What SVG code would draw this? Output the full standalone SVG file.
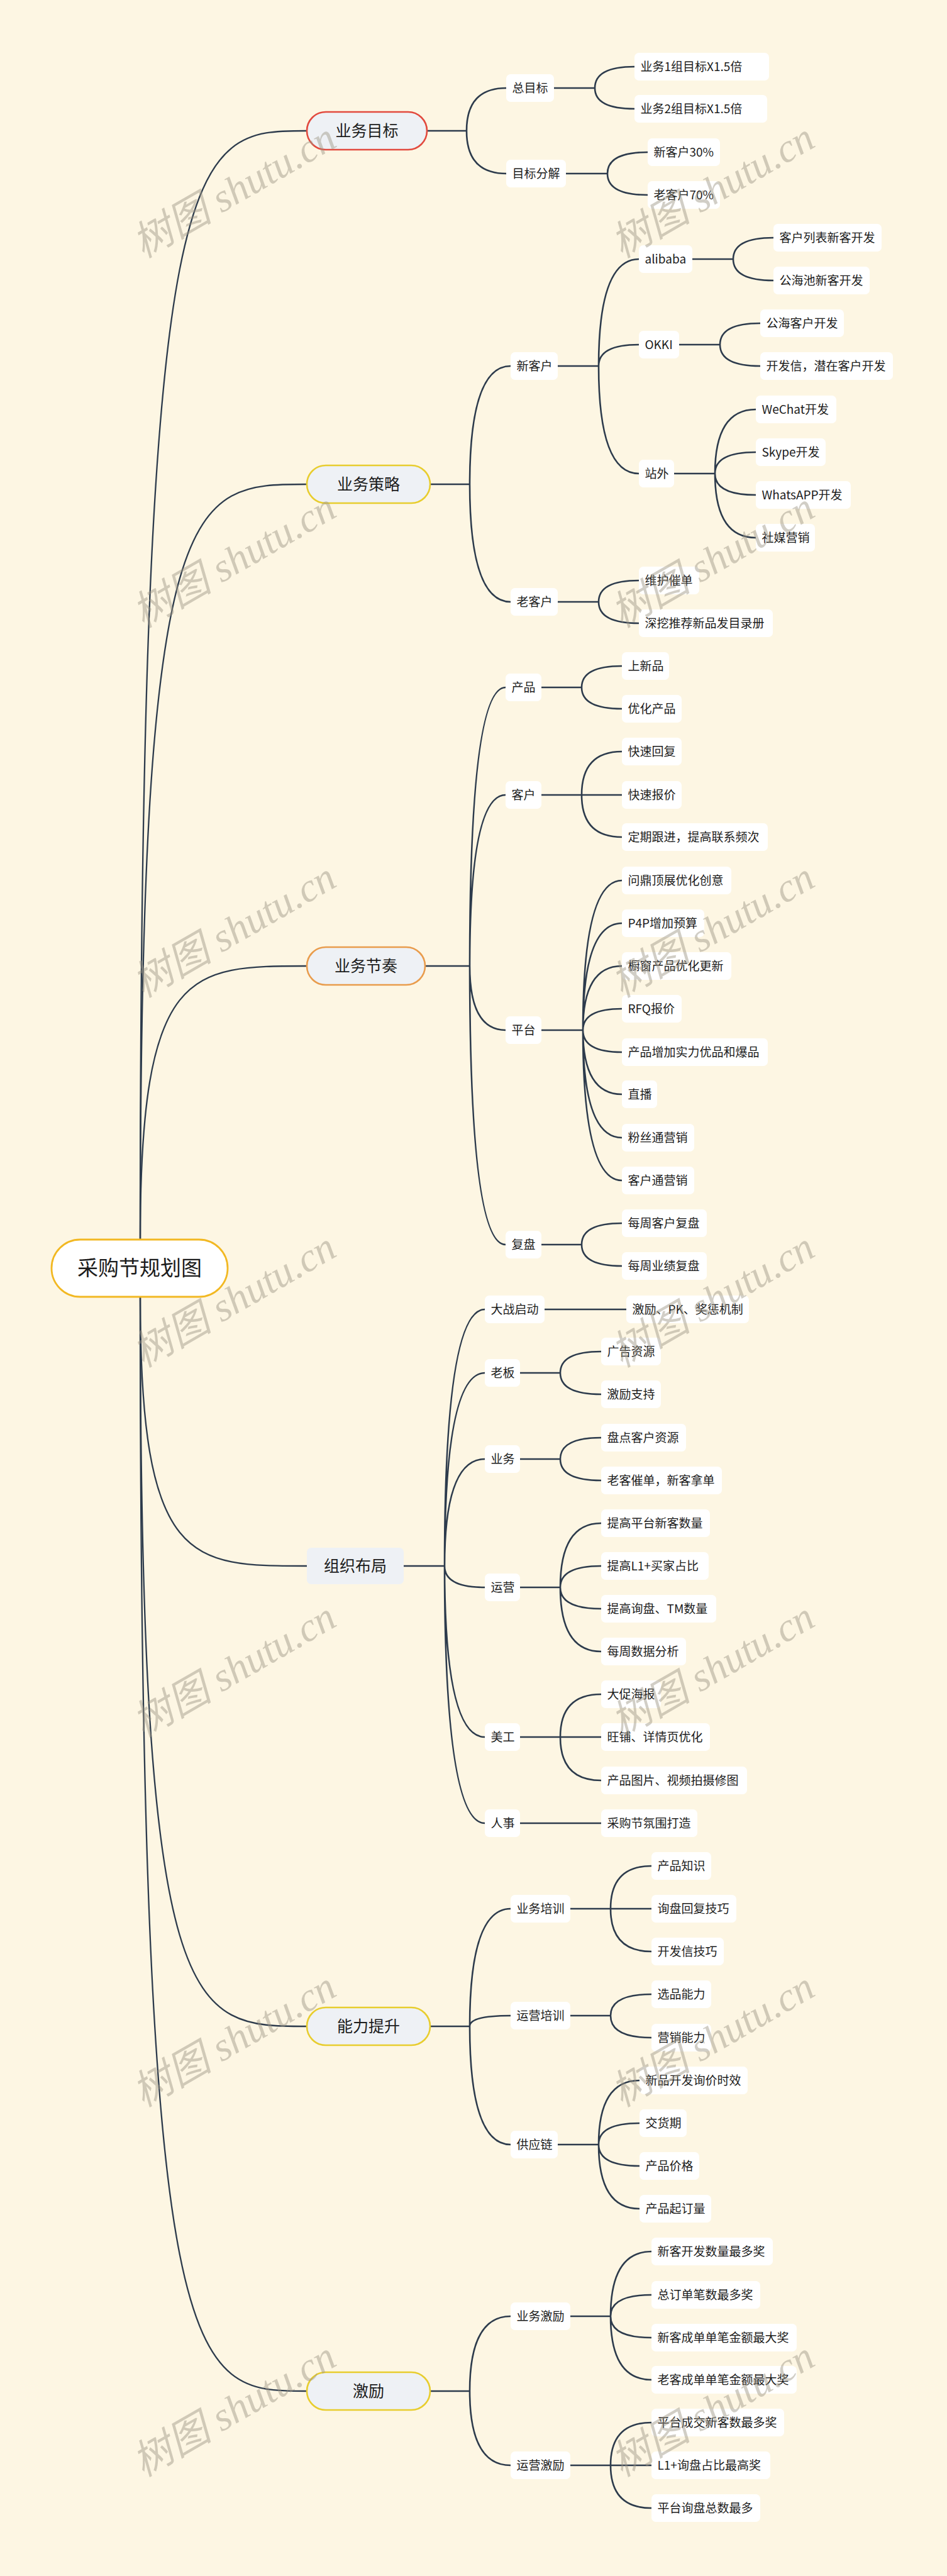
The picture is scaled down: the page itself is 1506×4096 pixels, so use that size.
<svg xmlns="http://www.w3.org/2000/svg" width="1506" height="4096" viewBox="0 0 1506 4096">
<style>
.t{font-family:"Noto Sans CJK SC","Noto Sans",sans-serif;font-size:19px;fill:#1c1c1c}
.n rect{fill:#ffffff}
.m rect{fill:#eef1f5;stroke-width:2.6}
.mt{font-family:"Noto Sans CJK SC","Noto Sans",sans-serif;font-size:25px;fill:#1c1c1c;text-anchor:middle}
.c path{fill:none;stroke:#2d3b4c;stroke-width:2.6;stroke-linecap:round}
.c .r{stroke-width:2.3}
.wm{font-family:"Liberation Serif","Noto Sans CJK SC",serif;font-style:italic;font-size:64px;fill:#9d9685;opacity:.46;text-anchor:middle}
</style>
<rect width="1506" height="4096" fill="#fdf6e3"/>
<g class="c" id="connectors">
<path class="r" d="M223,1971 C223,208 302,208 488,208"/>
<path class="r" d="M223,1971 C223,770 302,770 488,770"/>
<path class="r" d="M223,1971 C223,1536 302,1536 488,1536"/>
<path class="r" d="M223,2062 C223,2490 302,2490 488,2490"/>
<path class="r" d="M223,2062 C223,3222 302,3222 488,3222"/>
<path class="r" d="M223,2062 C223,3802 302,3802 488,3802"/>
<path d="M679,208 H742 M742,208 Q742,140 805,140 M742,208 Q742,276 805,276"/>
<path d="M881,140 H946 M946,140 Q946,106 1009,106 M946,140 Q946,173 1009,173"/>
<path d="M900,276 H966 M966,276 Q966,242 1030,242 M966,276 Q966,310 1030,310"/>
<path d="M684,770 H747 M747,770 Q747,582 812,582 M747,770 Q747,957 812,957"/>
<path d="M887,582 H952 M952,582 Q952,412 1016,412 M952,582 Q952,548 1016,548 M952,582 Q952,753 1016,753"/>
<path d="M1101,412 H1166 M1166,412 Q1166,378 1230,378 M1166,412 Q1166,446 1230,446"/>
<path d="M1080,548 H1145 M1145,548 Q1145,514 1209,514 M1145,548 Q1145,582 1209,582"/>
<path d="M1072,753 H1137 M1137,753 Q1137,651 1202,651 M1137,753 Q1137,719 1202,719 M1137,753 Q1137,787 1202,787 M1137,753 Q1137,855 1202,855"/>
<path d="M887,957 H952 M952,957 Q952,923 1016,923 M952,957 Q952,991 1016,991"/>
<path d="M676,1536 H747 M747,1536 Q747,1093 804,1093 M747,1536 Q747,1264 804,1264 M747,1536 Q747,1638 804,1638 M747,1536 Q747,1979 804,1979"/>
<path d="M861,1093 H925 M925,1093 Q925,1059 989,1059 M925,1093 Q925,1127 989,1127"/>
<path d="M861,1264 H989 M925,1264 Q925,1195 989,1195 M925,1264 Q925,1331 989,1331"/>
<path d="M861,1638 H927 M927,1638 Q927,1400 989,1400 M927,1638 Q927,1468 989,1468 M927,1638 Q927,1536 989,1536 M927,1638 Q927,1604 989,1604 M927,1638 Q927,1673 989,1673 M927,1638 Q927,1740 989,1740 M927,1638 Q927,1809 989,1809 M927,1638 Q927,1877 989,1877"/>
<path d="M861,1979 H925 M925,1979 Q925,1945 989,1945 M925,1979 Q925,2013 989,2013"/>
<path d="M642,2490 H707 M707,2490 Q707,2082 771,2082 M707,2490 Q707,2183 771,2183 M707,2490 Q707,2320 771,2320 M707,2490 Q707,2524 771,2524 M707,2490 Q707,2762 771,2762 M707,2490 Q707,2899 771,2899"/>
<path d="M866,2082 H996"/>
<path d="M827,2183 H891 M891,2183 Q891,2149 956,2149 M891,2183 Q891,2217 956,2217"/>
<path d="M827,2320 H891 M891,2320 Q891,2286 956,2286 M891,2320 Q891,2354 956,2354"/>
<path d="M827,2524 H891 M891,2524 Q891,2422 956,2422 M891,2524 Q891,2490 956,2490 M891,2524 Q891,2558 956,2558 M891,2524 Q891,2626 956,2626"/>
<path d="M827,2762 H956 M891,2762 Q891,2694 956,2694 M891,2762 Q891,2831 956,2831"/>
<path d="M827,2899 H956"/>
<path d="M684,3222 H747 M747,3222 Q747,3035 812,3035 M747,3222 Q747,3205 812,3205 M747,3222 Q747,3410 812,3410"/>
<path d="M907,3035 H1036 M971,3035 Q971,2967 1036,2967 M971,3035 Q971,3103 1036,3103"/>
<path d="M907,3205 H971 M971,3205 Q971,3171 1036,3171 M971,3205 Q971,3240 1036,3240"/>
<path d="M887,3410 H952 M952,3410 Q952,3308 1017,3308 M952,3410 Q952,3376 1017,3376 M952,3410 Q952,3444 1017,3444 M952,3410 Q952,3512 1017,3512"/>
<path d="M684,3802 H747 M747,3802 Q747,3683 812,3683 M747,3802 Q747,3920 812,3920"/>
<path d="M907,3683 H971 M971,3683 Q971,3580 1036,3580 M971,3683 Q971,3649 1036,3649 M971,3683 Q971,3717 1036,3717 M971,3683 Q971,3784 1036,3784"/>
<path d="M907,3920 H1036 M971,3920 Q971,3852 1036,3852 M971,3920 Q971,3988 1036,3988"/>
</g>
<g id="root"><rect x="82" y="1971" width="280" height="91" rx="45.5" fill="#ffffff" stroke="#f2b822" stroke-width="2.8"/><text x="222" y="2028" font-family="Noto Sans CJK SC, sans-serif" font-size="33" fill="#1c1c1c" text-anchor="middle">采购节规划图</text></g>
<g class="m" id="m1"><rect x="488" y="178" width="191" height="60" rx="30" stroke="#e24a3e"/><text class="mt" x="583.5" y="217">业务目标</text></g>
<g class="m" id="m2"><rect x="488" y="740" width="196" height="60" rx="30" stroke="#e8cd2e"/><text class="mt" x="586" y="779">业务策略</text></g>
<g class="m" id="m3"><rect x="488" y="1506" width="188" height="60" rx="30" stroke="#e99c4c"/><text class="mt" x="582" y="1545">业务节奏</text></g>
<g class="m" id="m4"><rect x="488" y="2461" width="154" height="58" rx="7" stroke="none"/><text class="mt" x="565" y="2499">组织布局</text></g>
<g class="m" id="m5"><rect x="488" y="3192" width="196" height="60" rx="30" stroke="#e8cd2e"/><text class="mt" x="586" y="3231">能力提升</text></g>
<g class="m" id="m6"><rect x="488" y="3772" width="196" height="60" rx="30" stroke="#e8cd2e"/><text class="mt" x="586" y="3811">激励</text></g>
<g class="n" id="n_zmb"><rect x="805" y="118" width="76" height="44" rx="7"/><text class="t" x="814.5" y="146.5">总目标</text></g>
<g class="n" id="n_mbfj"><rect x="805" y="254" width="95" height="44" rx="7"/><text class="t" x="814.5" y="282.5">目标分解</text></g>
<g class="n" id="n_yw1"><rect x="1009" y="84" width="214" height="44" rx="7"/><text class="t" x="1018.5" y="112.5">业务1组目标X1.5倍</text></g>
<g class="n" id="n_yw2"><rect x="1009" y="151" width="211" height="44" rx="7"/><text class="t" x="1018.5" y="179.5">业务2组目标X1.5倍</text></g>
<g class="n" id="n_xkh30"><rect x="1030" y="220" width="115" height="44" rx="7"/><text class="t" x="1039.5" y="248.5">新客户30%</text></g>
<g class="n" id="n_lkh70"><rect x="1030" y="288" width="115" height="44" rx="7"/><text class="t" x="1039.5" y="316.5">老客户70%</text></g>
<g class="n" id="n_xkh"><rect x="812" y="560" width="75" height="44" rx="7"/><text class="t" x="821.5" y="588.5">新客户</text></g>
<g class="n" id="n_lkh"><rect x="812" y="935" width="75" height="44" rx="7"/><text class="t" x="821.5" y="963.5">老客户</text></g>
<g class="n" id="n_ali"><rect x="1016" y="390" width="85" height="44" rx="7"/><text class="t" x="1025.5" y="418.5">alibaba</text></g>
<g class="n" id="n_okki"><rect x="1016" y="526" width="64" height="44" rx="7"/><text class="t" x="1025.5" y="554.5">OKKI</text></g>
<g class="n" id="n_zw"><rect x="1016" y="731" width="56" height="44" rx="7"/><text class="t" x="1025.5" y="759.5">站外</text></g>
<g class="n" id="n_khlb"><rect x="1230" y="356" width="172" height="44" rx="7"/><text class="t" x="1239.5" y="384.5">客户列表新客开发</text></g>
<g class="n" id="n_ghc"><rect x="1230" y="424" width="153" height="44" rx="7"/><text class="t" x="1239.5" y="452.5">公海池新客开发</text></g>
<g class="n" id="n_ghkh"><rect x="1209" y="492" width="133" height="44" rx="7"/><text class="t" x="1218.5" y="520.5">公海客户开发</text></g>
<g class="n" id="n_kfx"><rect x="1209" y="560" width="211" height="44" rx="7"/><text class="t" x="1218.5" y="588.5">开发信，潜在客户开发</text></g>
<g class="n" id="n_wechat"><rect x="1202" y="629" width="128" height="44" rx="7"/><text class="t" x="1211.5" y="657.5">WeChat开发</text></g>
<g class="n" id="n_skype"><rect x="1202" y="697" width="111" height="44" rx="7"/><text class="t" x="1211.5" y="725.5">Skype开发</text></g>
<g class="n" id="n_whatsapp"><rect x="1202" y="765" width="151" height="44" rx="7"/><text class="t" x="1211.5" y="793.5">WhatsAPP开发</text></g>
<g class="n" id="n_smyx"><rect x="1202" y="833" width="94" height="44" rx="7"/><text class="t" x="1211.5" y="861.5">社媒营销</text></g>
<g class="n" id="n_whcd"><rect x="1016" y="901" width="96" height="44" rx="7"/><text class="t" x="1025.5" y="929.5">维护催单</text></g>
<g class="n" id="n_swtj"><rect x="1016" y="969" width="213" height="44" rx="7"/><text class="t" x="1025.5" y="997.5">深挖推荐新品发目录册</text></g>
<g class="n" id="n_cp"><rect x="804" y="1071" width="57" height="44" rx="7"/><text class="t" x="813.5" y="1099.5">产品</text></g>
<g class="n" id="n_kh"><rect x="804" y="1242" width="57" height="44" rx="7"/><text class="t" x="813.5" y="1270.5">客户</text></g>
<g class="n" id="n_pt"><rect x="804" y="1616" width="57" height="44" rx="7"/><text class="t" x="813.5" y="1644.5">平台</text></g>
<g class="n" id="n_fp"><rect x="804" y="1957" width="57" height="44" rx="7"/><text class="t" x="813.5" y="1985.5">复盘</text></g>
<g class="n" id="n_sxp"><rect x="989" y="1037" width="75" height="44" rx="7"/><text class="t" x="998.5" y="1065.5">上新品</text></g>
<g class="n" id="n_yhcp"><rect x="989" y="1105" width="95" height="44" rx="7"/><text class="t" x="998.5" y="1133.5">优化产品</text></g>
<g class="n" id="n_kshf"><rect x="989" y="1173" width="95" height="44" rx="7"/><text class="t" x="998.5" y="1201.5">快速回复</text></g>
<g class="n" id="n_ksbj"><rect x="989" y="1242" width="95" height="44" rx="7"/><text class="t" x="998.5" y="1270.5">快速报价</text></g>
<g class="n" id="n_dqgj"><rect x="989" y="1309" width="232" height="44" rx="7"/><text class="t" x="998.5" y="1337.5">定期跟进，提高联系频次</text></g>
<g class="n" id="n_wd"><rect x="989" y="1378" width="174" height="44" rx="7"/><text class="t" x="998.5" y="1406.5">问鼎顶展优化创意</text></g>
<g class="n" id="n_p4p"><rect x="989" y="1446" width="131" height="44" rx="7"/><text class="t" x="998.5" y="1474.5">P4P增加预算</text></g>
<g class="n" id="n_cc"><rect x="989" y="1514" width="174" height="44" rx="7"/><text class="t" x="998.5" y="1542.5">橱窗产品优化更新</text></g>
<g class="n" id="n_rfq"><rect x="989" y="1582" width="95" height="44" rx="7"/><text class="t" x="998.5" y="1610.5">RFQ报价</text></g>
<g class="n" id="n_cpzj"><rect x="989" y="1651" width="232" height="44" rx="7"/><text class="t" x="998.5" y="1679.5">产品增加实力优品和爆品</text></g>
<g class="n" id="n_zb"><rect x="989" y="1718" width="56" height="44" rx="7"/><text class="t" x="998.5" y="1746.5">直播</text></g>
<g class="n" id="n_fst"><rect x="989" y="1787" width="115" height="44" rx="7"/><text class="t" x="998.5" y="1815.5">粉丝通营销</text></g>
<g class="n" id="n_kht"><rect x="989" y="1855" width="115" height="44" rx="7"/><text class="t" x="998.5" y="1883.5">客户通营销</text></g>
<g class="n" id="n_mzkh"><rect x="989" y="1923" width="135" height="44" rx="7"/><text class="t" x="998.5" y="1951.5">每周客户复盘</text></g>
<g class="n" id="n_mzyj"><rect x="989" y="1991" width="135" height="44" rx="7"/><text class="t" x="998.5" y="2019.5">每周业绩复盘</text></g>
<g class="n" id="n_dzqd"><rect x="771" y="2060" width="95" height="44" rx="7"/><text class="t" x="780.5" y="2088.5">大战启动</text></g>
<g class="n" id="n_lb"><rect x="771" y="2161" width="56" height="44" rx="7"/><text class="t" x="780.5" y="2189.5">老板</text></g>
<g class="n" id="n_yw"><rect x="771" y="2298" width="56" height="44" rx="7"/><text class="t" x="780.5" y="2326.5">业务</text></g>
<g class="n" id="n_yy"><rect x="771" y="2502" width="56" height="44" rx="7"/><text class="t" x="780.5" y="2530.5">运营</text></g>
<g class="n" id="n_mg"><rect x="771" y="2740" width="56" height="44" rx="7"/><text class="t" x="780.5" y="2768.5">美工</text></g>
<g class="n" id="n_rs"><rect x="771" y="2877" width="56" height="44" rx="7"/><text class="t" x="780.5" y="2905.5">人事</text></g>
<g class="n" id="n_jlpk"><rect x="996" y="2060" width="195" height="44" rx="7"/><text class="t" x="1005.5" y="2088.5">激励、PK、奖惩机制</text></g>
<g class="n" id="n_ggzy"><rect x="956" y="2127" width="95" height="44" rx="7"/><text class="t" x="965.5" y="2155.5">广告资源</text></g>
<g class="n" id="n_jlzc"><rect x="956" y="2195" width="95" height="44" rx="7"/><text class="t" x="965.5" y="2223.5">激励支持</text></g>
<g class="n" id="n_pdkh"><rect x="956" y="2264" width="135" height="44" rx="7"/><text class="t" x="965.5" y="2292.5">盘点客户资源</text></g>
<g class="n" id="n_lkcd"><rect x="956" y="2332" width="192" height="44" rx="7"/><text class="t" x="965.5" y="2360.5">老客催单，新客拿单</text></g>
<g class="n" id="n_tgpt"><rect x="956" y="2400" width="173" height="44" rx="7"/><text class="t" x="965.5" y="2428.5">提高平台新客数量</text></g>
<g class="n" id="n_tgl1"><rect x="956" y="2468" width="171" height="44" rx="7"/><text class="t" x="965.5" y="2496.5">提高L1+买家占比</text></g>
<g class="n" id="n_tgxp"><rect x="956" y="2536" width="183" height="44" rx="7"/><text class="t" x="965.5" y="2564.5">提高询盘、TM数量</text></g>
<g class="n" id="n_mzsj"><rect x="956" y="2604" width="135" height="44" rx="7"/><text class="t" x="965.5" y="2632.5">每周数据分析</text></g>
<g class="n" id="n_dchb"><rect x="956" y="2672" width="95" height="44" rx="7"/><text class="t" x="965.5" y="2700.5">大促海报</text></g>
<g class="n" id="n_wp"><rect x="956" y="2740" width="173" height="44" rx="7"/><text class="t" x="965.5" y="2768.5">旺铺、详情页优化</text></g>
<g class="n" id="n_cptp"><rect x="956" y="2809" width="232" height="44" rx="7"/><text class="t" x="965.5" y="2837.5">产品图片、视频拍摄修图</text></g>
<g class="n" id="n_cgj"><rect x="956" y="2877" width="153" height="44" rx="7"/><text class="t" x="965.5" y="2905.5">采购节氛围打造</text></g>
<g class="n" id="n_ywpx"><rect x="812" y="3013" width="95" height="44" rx="7"/><text class="t" x="821.5" y="3041.5">业务培训</text></g>
<g class="n" id="n_yypx"><rect x="812" y="3183" width="95" height="44" rx="7"/><text class="t" x="821.5" y="3211.5">运营培训</text></g>
<g class="n" id="n_gyl"><rect x="812" y="3388" width="75" height="44" rx="7"/><text class="t" x="821.5" y="3416.5">供应链</text></g>
<g class="n" id="n_cpzs"><rect x="1036" y="2945" width="95" height="44" rx="7"/><text class="t" x="1045.5" y="2973.5">产品知识</text></g>
<g class="n" id="n_xphf"><rect x="1036" y="3013" width="135" height="44" rx="7"/><text class="t" x="1045.5" y="3041.5">询盘回复技巧</text></g>
<g class="n" id="n_kfxjq"><rect x="1036" y="3081" width="115" height="44" rx="7"/><text class="t" x="1045.5" y="3109.5">开发信技巧</text></g>
<g class="n" id="n_xpnl"><rect x="1036" y="3149" width="95" height="44" rx="7"/><text class="t" x="1045.5" y="3177.5">选品能力</text></g>
<g class="n" id="n_yxnl"><rect x="1036" y="3218" width="95" height="44" rx="7"/><text class="t" x="1045.5" y="3246.5">营销能力</text></g>
<g class="n" id="n_xpkf"><rect x="1017" y="3286" width="172" height="44" rx="7"/><text class="t" x="1026.5" y="3314.5">新品开发询价时效</text></g>
<g class="n" id="n_jhq"><rect x="1017" y="3354" width="75" height="44" rx="7"/><text class="t" x="1026.5" y="3382.5">交货期</text></g>
<g class="n" id="n_cpjg"><rect x="1017" y="3422" width="95" height="44" rx="7"/><text class="t" x="1026.5" y="3450.5">产品价格</text></g>
<g class="n" id="n_cpqd"><rect x="1017" y="3490" width="114" height="44" rx="7"/><text class="t" x="1026.5" y="3518.5">产品起订量</text></g>
<g class="n" id="n_ywjl"><rect x="812" y="3661" width="95" height="44" rx="7"/><text class="t" x="821.5" y="3689.5">业务激励</text></g>
<g class="n" id="n_yyjl"><rect x="812" y="3898" width="95" height="44" rx="7"/><text class="t" x="821.5" y="3926.5">运营激励</text></g>
<g class="n" id="n_xkkf"><rect x="1036" y="3558" width="193" height="44" rx="7"/><text class="t" x="1045.5" y="3586.5">新客开发数量最多奖</text></g>
<g class="n" id="n_zdd"><rect x="1036" y="3627" width="173" height="44" rx="7"/><text class="t" x="1045.5" y="3655.5">总订单笔数最多奖</text></g>
<g class="n" id="n_xkcd"><rect x="1036" y="3695" width="231" height="44" rx="7"/><text class="t" x="1045.5" y="3723.5">新客成单单笔金额最大奖</text></g>
<g class="n" id="n_lkcdj"><rect x="1036" y="3762" width="231" height="44" rx="7"/><text class="t" x="1045.5" y="3790.5">老客成单单笔金额最大奖</text></g>
<g class="n" id="n_ptcj"><rect x="1036" y="3830" width="211" height="44" rx="7"/><text class="t" x="1045.5" y="3858.5">平台成交新客数最多奖</text></g>
<g class="n" id="n_l1xp"><rect x="1036" y="3898" width="189" height="44" rx="7"/><text class="t" x="1045.5" y="3926.5">L1+询盘占比最高奖</text></g>
<g class="n" id="n_ptxp"><rect x="1036" y="3966" width="173" height="44" rx="7"/><text class="t" x="1045.5" y="3994.5">平台询盘总数最多</text></g>
<g id="watermarks">
<text class="wm" transform="translate(372,302.5) rotate(-30)" y="22">树图 shutu.cn</text>
<text class="wm" transform="translate(1133,302.5) rotate(-30)" y="22">树图 shutu.cn</text>
<text class="wm" transform="translate(372,890.5) rotate(-30)" y="22">树图 shutu.cn</text>
<text class="wm" transform="translate(1133,890.5) rotate(-30)" y="22">树图 shutu.cn</text>
<text class="wm" transform="translate(372,1478.5) rotate(-30)" y="22">树图 shutu.cn</text>
<text class="wm" transform="translate(1133,1478.5) rotate(-30)" y="22">树图 shutu.cn</text>
<text class="wm" transform="translate(372,2066.5) rotate(-30)" y="22">树图 shutu.cn</text>
<text class="wm" transform="translate(1133,2066.5) rotate(-30)" y="22">树图 shutu.cn</text>
<text class="wm" transform="translate(372,2654.5) rotate(-30)" y="22">树图 shutu.cn</text>
<text class="wm" transform="translate(1133,2654.5) rotate(-30)" y="22">树图 shutu.cn</text>
<text class="wm" transform="translate(372,3242.5) rotate(-30)" y="22">树图 shutu.cn</text>
<text class="wm" transform="translate(1133,3242.5) rotate(-30)" y="22">树图 shutu.cn</text>
<text class="wm" transform="translate(372,3830.5) rotate(-30)" y="22">树图 shutu.cn</text>
<text class="wm" transform="translate(1133,3830.5) rotate(-30)" y="22">树图 shutu.cn</text>
</g>
</svg>
